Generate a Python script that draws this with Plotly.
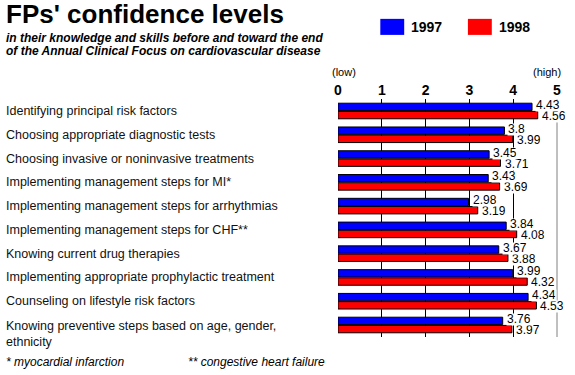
import plotly.graph_objects as go

# ---------------- data ----------------
categories = [
    "Identifying principal risk factors",
    "Choosing appropriate diagnostic tests",
    "Choosing invasive or noninvasive treatments",
    "Implementing management steps for MI*",
    "Implementing management steps for arrhythmias",
    "Implementing management steps for CHF**",
    "Knowing current drug therapies",
    "Implementing appropriate prophylactic treatment",
    "Counseling on lifestyle risk factors",
    "Knowing preventive steps based on age, gender,<br>ethnicity",
]
values_1997 = [4.43, 3.8, 3.45, 3.43, 2.98, 3.84, 3.67, 3.99, 4.34, 3.76]
values_1998 = [4.56, 3.99, 3.71, 3.69, 3.19, 4.08, 3.88, 4.32, 4.53, 3.97]
series_names = ["1997", "1998"]
series_colors = ["#0000FF", "#FF0000"]
tick_values = [0, 1, 2, 3, 4, 5]
tick_labels = ["0", "1", "2", "3", "4", "5"]

title_text = "FPs' confidence levels"
subtitle_lines = [
    "in their knowledge and skills before and toward the end",
    "of the Annual Clinical Focus on cardiovascular disease",
]
footnotes = ["* myocardial infarction", "** congestive heart failure"]

# ---------------- layout geometry (pixels) ----------------
W, H = 575, 375
L, R = 337.5, 557.5
T, B = 99, 336.6
FONT = "Arial, 'Liberation Sans', sans-serif"


def px2x(px):
    return (px - L) / (R - L)


def py2y(py):
    return (B - py) / (B - T)


fig = go.Figure()
for name, vals, col in zip(series_names, [values_1997, values_1998], series_colors):
    fig.add_trace(go.Bar(
        name=name, y=categories, x=vals, orientation="h",
        marker=dict(color=col, line=dict(color="black", width=1)),
        showlegend=False, hoverinfo="skip",
    ))

ann = []
shapes = []

# title & subtitle
ann.append(dict(text="<b>" + title_text + "</b>", xref="paper", yref="paper",
                x=px2x(2), y=py2y(14), xanchor="left", yanchor="middle",
                showarrow=False, font=dict(family=FONT, size=26, color="black")))
for i, line in enumerate(subtitle_lines):
    ann.append(dict(text="<b><i>" + line + "</i></b>", xref="paper", yref="paper",
                    x=px2x(2), y=py2y(38.5 + 13 * i), xanchor="left", yanchor="middle",
                    showarrow=False, font=dict(family=FONT, size=12, color="black")))

# manual legend
leg_x = [380, 468]
for name, col, lx in zip(series_names, series_colors, leg_x):
    shapes.append(dict(type="rect", xref="paper", yref="paper",
                       x0=px2x(lx), x1=px2x(lx + 24), y0=py2y(35), y1=py2y(19),
                       fillcolor=col, line=dict(width=0)))
    ann.append(dict(text="<b>" + name + "</b>", xref="paper", yref="paper",
                    x=px2x(lx + 29), y=py2y(27), xanchor="left", yanchor="middle",
                    showarrow=False, font=dict(family=FONT, size=14, color="black")))

# (low) / (high)
ann.append(dict(text="(low)", xref="x", yref="paper", x=tick_values[0], y=py2y(72),
                xanchor="left", yanchor="middle", xshift=-8, showarrow=False,
                font=dict(family=FONT, size=11, color="black")))
ann.append(dict(text="(high)", xref="x", yref="paper", x=tick_values[-1], y=py2y(72),
                xanchor="right", yanchor="middle", xshift=6, showarrow=False,
                font=dict(family=FONT, size=11, color="black")))

# category labels (left aligned)
for c in categories:
    multi = "<br>" in c
    ann.append(dict(text=c, xref="paper", yref="y", x=px2x(2), y=c,
                    xanchor="left", yanchor="top" if multi else "middle",
                    yshift=8 if multi else 0, align="left", showarrow=False,
                    font=dict(family=FONT, size=12.5, color="#111111")))

# value labels (red first, blue on top)
for vals, ys in [(values_1998, -5.5), (values_1997, 5.5)]:
    for c, v in zip(categories, vals):
        ann.append(dict(text=f"{v:g}", xref="x", yref="y", x=v, y=c,
                        xanchor="left", yanchor="middle", xshift=3, yshift=ys,
                        bgcolor="white", borderpad=0, height=10.5, valign="middle",
                        showarrow=False,
                        font=dict(family=FONT, size=12, color="black")))

# footnotes
for fn, fx in zip(footnotes, [2, 185]):
    ann.append(dict(text="<i>" + fn + "</i>", xref="paper", yref="paper",
                    x=px2x(fx), y=py2y(362), xanchor="left", yanchor="middle",
                    showarrow=False, font=dict(family=FONT, size=12, color="black")))

# right frame line at x=5
shapes.append(dict(type="line", xref="x domain", yref="y domain", x0=1, x1=1,
                   y0=0, y1=1, line=dict(color="#808080", width=1), layer="below"))

fig.update_layout(
    width=W, height=H,
    margin=dict(l=L, r=W - R, t=T, b=H - B, pad=0),
    paper_bgcolor="white", plot_bgcolor="white",
    barmode="group", bargap=0.31, bargroupgap=0.1,
    hovermode=False,
    annotations=ann, shapes=shapes,
    xaxis=dict(side="top", range=[0, 5], tickvals=tick_values, ticktext=tick_labels,
               tickfont=dict(family=FONT, size=14, color="black", weight="bold"),
               ticks="", showgrid=True, gridcolor="black", gridwidth=1,
               zeroline=True, zerolinecolor="white", showline=False, fixedrange=True),
    yaxis=dict(autorange="reversed", showticklabels=False, showgrid=False,
               zeroline=False, showline=False, fixedrange=True),
)

fig.write_html("out.html", config={"displayModeBar": False},
               post_script="document.body.style.margin='0';document.body.style.padding='0';")
